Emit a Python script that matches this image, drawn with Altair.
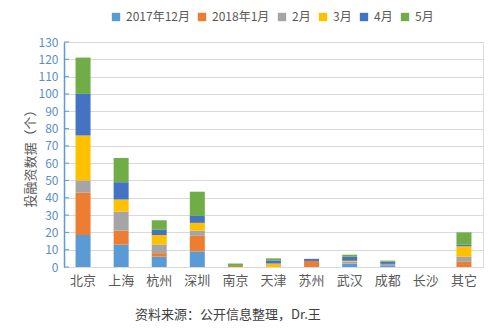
import altair as alt
import pandas as pd

cities = ["北京", "上海", "杭州", "深圳", "南京", "天津", "苏州", "武汉", "成都", "长沙", "其它"]
series = ["2017年12月", "2018年1月", "2月", "3月", "4月", "5月"]
colors = ["#5B9BD5", "#ED7D31", "#A5A5A5", "#FFC000", "#4472C4", "#70AD47"]

dec = [18.5, 13, 6, 9, 0, 0, 0, 2, 0.6, 0, 0]
jan = [24.5, 8, 2, 9, 0.6, 0, 3.5, 0, 0, 0, 3]
feb = [7, 11, 5, 3, 0, 0, 0, 1, 1.2, 0, 3]
mar = [26, 7, 5.5, 4.5, 0, 2, 0, 0.6, 0, 0, 6]
apr = [24, 10, 3, 4, 0, 1.8, 1.2, 2.3, 1.3, 0, 1]
may = [21, 14, 5.5, 14, 1.4, 1.2, 0, 1.2, 0.6, 0, 7]

y_ticks = list(range(0, 131, 10))

rows = []
for si, (name, vals) in enumerate(zip(series, [dec, jan, feb, mar, apr, may])):
    for c, v in zip(cities, vals):
        rows.append({"city": c, "series": name, "value": v, "idx": si})
df = pd.DataFrame(rows)
ticks_df = pd.DataFrame({"t": y_ticks})

FONT = "Noto Sans CJK SC"
W, H = 419, 225

yscale = alt.Scale(domain=[0, 130], nice=False)

bars = alt.Chart(df).mark_bar(size=15).encode(
    x=alt.X("city:N", sort=cities, scale=alt.Scale(paddingInner=0.6, paddingOuter=0.3),
            axis=alt.Axis(title=None, ticks=False, labelAngle=0, labelFontSize=13,
                          labelColor="#595959", labelPadding=7, domainColor="#D9D9D9",
                          domainWidth=1, labelFont=FONT)),
    y=alt.Y("value:Q", stack="zero", scale=yscale,
            axis=alt.Axis(title="投融资数据（个）", values=y_ticks, tickCount=14,
                          grid=True, gridColor="#D9D9D9", gridWidth=1,
                          ticks=False, labelPadding=6, labelFontSize=12,
                          labelColor="#5B8FC7", domainColor="#5B9BD5", domainWidth=1.5,
                          titleFontSize=13, titleColor="#595959", titleFontWeight="normal",
                          titleX=-34, titleY=113, titleAngle=270, titleAlign="center",
                          titleBaseline="middle", labelFont=FONT, titleFont=FONT)),
    color=alt.Color("series:N", sort=series,
                    scale=alt.Scale(domain=series, range=colors),
                    legend=alt.Legend(title=None, orient="none", direction="horizontal",
                                      columns=6, legendX=46, legendY=-31,
                                      symbolType="square", symbolSize=70,
                                      symbolStrokeWidth=0, labelFontSize=12,
                                      labelColor="#595959", labelFont=FONT,
                                      columnPadding=6, symbolOffset=0, labelOffset=4)),
    order=alt.Order("idx:Q", sort="ascending"),
)

tick_marks = alt.Chart(ticks_df).mark_rule(color="#5B9BD5", strokeWidth=1).encode(
    y=alt.Y("t:Q", scale=yscale),
    x=alt.value(0),
    x2=alt.value(5),
)

chart = alt.layer(bars, tick_marks).properties(
    width=W, height=H,
    title=alt.TitleParams("资料来源：公开信息整理，Dr.王", orient="bottom", anchor="start",
                          dx=111, fontSize=13, font=FONT, fontWeight="normal",
                          color="#404040", offset=22),
    padding={"left": 64, "top": 42, "right": 14, "bottom": 61},
    autosize=alt.AutoSizeParams(type="none"),
).configure_view(stroke=None).configure(font=FONT)

chart.save("out.html", embed_options={"renderer": "svg", "actions": False})
